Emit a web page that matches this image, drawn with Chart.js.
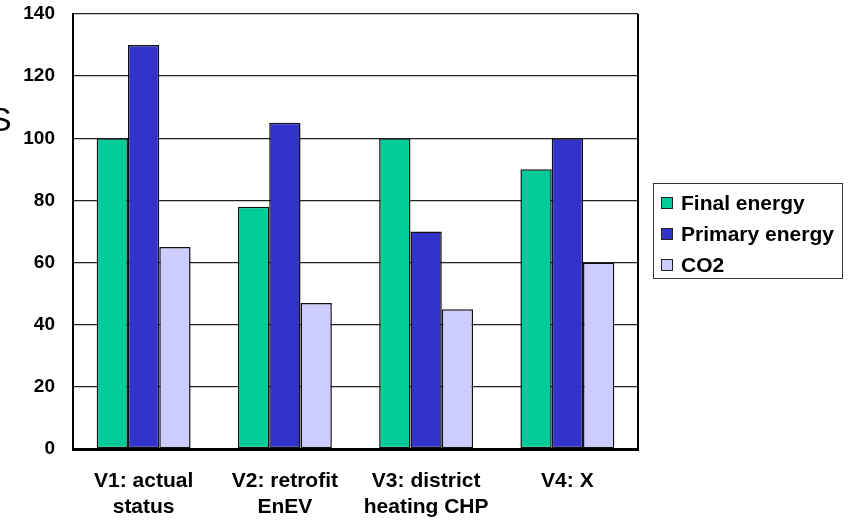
<!DOCTYPE html>
<html>
<head>
<meta charset="utf-8">
<script src="https://cdn.jsdelivr.net/npm/chart.js@4/dist/chart.umd.min.js"></script>
<style>
  html, body { margin: 0; padding: 0; background: #fff; }
  #wrap { position: relative; width: 848px; height: 521px; overflow: hidden; }
  canvas { display: block; }
</style>
</head>
<body>
<div id="wrap"><canvas id="c" width="848" height="521"></canvas></div>
<script>
// Scenario categories (two-line labels)
const categories = [
  ["V1: actual", "status"],
  ["V2: retrofit", "EnEV"],
  ["V3: district", "heating CHP"],
  ["V4: X"]
];
const seriesNames = ["Final energy", "Primary energy", "CO2"];
const finalEnergy = [100, 78, 100, 90];
const primaryEnergy = [130, 105, 70, 100];
const co2 = [65, 47, 45, 60];
const yTicks = [0, 20, 40, 60, 80, 100, 120, 140];

const colors = ["#00CC99", "#3333CC", "#CCCCFF"];
const FONT = "'Liberation Sans', Arial, sans-serif";

// Frame on the right side of the plot, the legend box, and the clipped axis title
const decorations = {
  id: "decorations",
  afterDraw(chart) {
    const ctx = chart.ctx;
    const a = chart.chartArea;
    ctx.save();
    ctx.strokeStyle = "#000";
    ctx.lineWidth = 2;
    ctx.beginPath();
    ctx.moveTo(a.right, a.top);
    ctx.lineTo(a.right, a.bottom + 1);
    ctx.stroke();

    // axis title, mostly outside the canvas
    ctx.fillStyle = "#000";
    ctx.font = "34px " + FONT;
    ctx.textAlign = "left";
    ctx.textBaseline = "middle";
    ctx.fillText("S", -11, 122);

    // legend
    const lx = 653.5, ly = 183.5, lw = 189, lh = 95;
    ctx.lineWidth = 1;
    ctx.strokeStyle = "#333";
    ctx.fillStyle = "#fff";
    ctx.fillRect(lx, ly, lw, lh);
    ctx.strokeRect(lx, ly, lw, lh);
    ctx.font = "bold 21px " + FONT;
    ctx.textBaseline = "middle";
    const ys = [203, 234, 265];
    chart.data.datasets.forEach((ds, i) => {
      ctx.fillStyle = ds.backgroundColor;
      ctx.fillRect(661.5, ys[i] - 5.5, 11, 11);
      ctx.strokeStyle = "#222";
      ctx.strokeRect(661.5, ys[i] - 5.5, 11, 11);
      ctx.fillStyle = "#000";
      ctx.fillText(ds.label, 681, ys[i] + 1);
    });
    ctx.restore();
  }
};

new Chart(document.getElementById("c"), {
  type: "bar",
  data: {
    labels: categories,
    datasets: [
      { label: seriesNames[0], data: finalEnergy, backgroundColor: colors[0] },
      { label: seriesNames[1], data: primaryEnergy, backgroundColor: colors[1] },
      { label: seriesNames[2], data: co2, backgroundColor: colors[2] }
    ].map(d => Object.assign(d, {
      borderColor: "#111",
      borderWidth: 1.5,
      borderSkipped: false,
      categoryPercentage: 0.665,
      barPercentage: 1.0
    }))
  },
  options: {
    responsive: false,
    animation: false,
    devicePixelRatio: 1,
    layout: { padding: { left: 0, right: 210, top: 14, bottom: 0 } },
    plugins: {
      legend: { display: false },
      tooltip: { enabled: false }
    },
    scales: {
      x: {
        grid: { display: false, drawTicks: false },
        border: { display: true, color: "#000", width: 3 },
        ticks: {
          color: "#000",
          font: { family: FONT, size: 21, weight: "bold", lineHeight: 1.2 },
          padding: 20,
          maxRotation: 0,
          autoSkip: false
        },
        afterFit(s) { s.height = 521 - 449; }
      },
      y: {
        min: 0,
        max: 140,
        afterBuildTicks(s) { s.ticks = yTicks.map(v => ({ value: v })); },
        grid: { color: "#222", lineWidth: 1.3, drawTicks: false },
        border: { display: true, color: "#000", width: 2 },
        ticks: {
          color: "#000",
          font: { family: FONT, size: 19, weight: "bold" },
          padding: 18
        },
        afterFit(s) {
          s.width = 73;
          s.paddingTop = 0;
          s.paddingBottom = 0;
        }
      }
    }
  },
  plugins: [decorations]
});
</script>
</body>
</html>
